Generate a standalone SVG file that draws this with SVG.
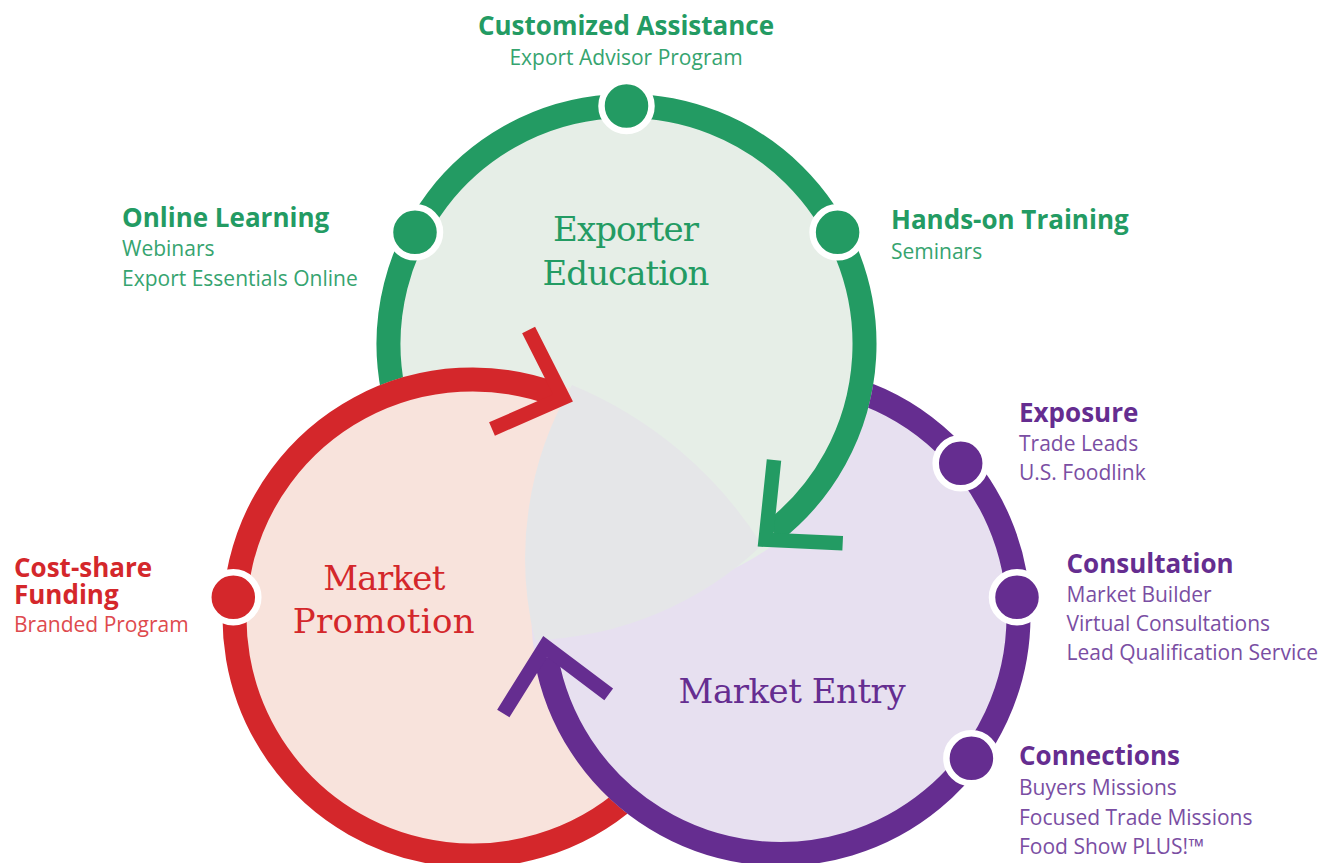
<svg xmlns="http://www.w3.org/2000/svg" width="1321" height="863" viewBox="0 0 1321 863">
<style>
.t{font-family:"Open Sans","Noto Sans","Liberation Sans",sans-serif;font-weight:700;font-size:26px}
.s{font-family:"Open Sans","Noto Sans","Liberation Sans",sans-serif;font-weight:400;font-size:21px}
.c{font-family:"DejaVu Serif","Liberation Serif",serif;font-size:34px}
.g{fill:#239b63}.gs{fill:#36a46f}
.r{fill:#d4272b}.rs{fill:#de4a4e}
.p{fill:#652d90}.ps{fill:#7a4ea3}
.ring{fill:none;stroke-width:24}
.chev{fill:none;stroke-width:14.5;stroke-linejoin:miter;stroke-miterlimit:10}
.dot{stroke:#fff;stroke-width:6.5}
</style>
<defs>
<clipPath id="inR"><circle cx="472.5" cy="617.5" r="250"/></clipPath>
<clipPath id="outR"><path clip-rule="evenodd" d="M-10,-10H1331V873H-10Z M222.5,617.5a250,250 0 1,0 500,0a250,250 0 1,0 -500,0Z"/></clipPath>
<clipPath id="outP"><path clip-rule="evenodd" d="M-10,-10H1331V873H-10Z M530.5,616a250,250 0 1,0 500,0a250,250 0 1,0 -500,0Z"/></clipPath>
<clipPath id="outG"><path clip-rule="evenodd" d="M-10,-10H1331V873H-10Z M376.5,344a250,250 0 1,0 500,0a250,250 0 1,0 -500,0Z"/></clipPath>
</defs>
<rect width="1321" height="863" fill="#fff"/>
<g id="fills">
<circle cx="780.5" cy="616" r="249" fill="#e7e0f0"/>
<circle cx="626.5" cy="344" r="249" fill="#e6eee7"/>
<circle cx="472.5" cy="617.5" r="249" fill="#f8e3dc"/>
<circle cx="780.5" cy="616" r="249" fill="#e7e0f0" clip-path="url(#inR)"/>
<path d="M572,385 A411,411 0 0 1 762,545 A344,344 0 0 1 535,640 A343,343 0 0 1 572,385 Z" fill="#e5e6e8"/>
</g>
<g id="connectors">
<path class="ring" stroke="#239b63" clip-path="url(#outR)" d="M507.5,550.11 A238,238 0 1 1 773.03,531.55"/>
<path class="chev" stroke="#239b63" d="M774,460 L765.7,539.7 L842.7,543.3"/>
<path class="ring" stroke="#d4272b" clip-path="url(#outP)" d="M710.5,617.5 A238,238 0 1 1 553.9,393.85"/>
<path class="chev" stroke="#d4272b" d="M528.6,330 L563,398 L492,429"/>
<path class="ring" stroke="#652d90" clip-path="url(#outG)" d="M661.5,409.89 A238,238 0 1 1 546.12,657.33"/>
<path class="chev" stroke="#652d90" d="M608.7,694.4 L545.2,646.5 L503.3,713.5"/>
</g>
<g id="exporter-education">
<circle class="dot g" cx="626.5" cy="106" r="25"/>
<circle class="dot g" cx="415" cy="232.3" r="25"/>
<circle class="dot g" cx="837.6" cy="232.3" r="25"/>
<text class="c g" x="553" y="241" textLength="146">Exporter</text>
<text class="c g" x="542.5" y="285" textLength="167">Education</text>
<text class="t g" x="626" y="35" text-anchor="middle">Customized Assistance</text>
<text class="s gs" x="626" y="65" text-anchor="middle">Export Advisor Program</text>
<text class="t g" x="122" y="227">Online Learning</text>
<text class="s gs" x="122" y="256">Webinars</text>
<text class="s gs" x="122" y="286">Export Essentials Online</text>
<text class="t g" x="891" y="229">Hands-on Training</text>
<text class="s gs" x="891" y="259">Seminars</text>
</g>
<g id="market-promotion">
<circle class="dot r" cx="233.3" cy="597.3" r="25"/>
<text class="c r" x="323.3" y="590" textLength="122">Market</text>
<text class="c r" x="292.7" y="633" textLength="182">Promotion</text>
<text class="t r" x="14" y="577">Cost-share</text>
<text class="t r" x="14" y="603.5">Funding</text>
<text class="s rs" x="14" y="632">Branded Program</text>
</g>
<g id="market-entry">
<circle class="dot p" cx="960.7" cy="463.3" r="25"/>
<circle class="dot p" cx="1017" cy="597.3" r="25"/>
<circle class="dot p" cx="971.4" cy="758.3" r="25"/>
<text class="c p" x="678.6" y="703" textLength="227">Market Entry</text>
<text class="t p" x="1019" y="422">Exposure</text>
<text class="s ps" x="1019" y="451">Trade Leads</text>
<text class="s ps" x="1019" y="480">U.S. Foodlink</text>
<text class="t p" x="1066.5" y="573">Consultation</text>
<text class="s ps" x="1066.5" y="602">Market Builder</text>
<text class="s ps" x="1066.5" y="631">Virtual Consultations</text>
<text class="s ps" x="1066.5" y="659.5">Lead Qualification Service</text>
<text class="t p" x="1019" y="765">Connections</text>
<text class="s ps" x="1019" y="795">Buyers Missions</text>
<text class="s ps" x="1019" y="824.5">Focused Trade Missions</text>
<text class="s ps" x="1019" y="853.5">Food Show PLUS!™</text>
</g>
</svg>
